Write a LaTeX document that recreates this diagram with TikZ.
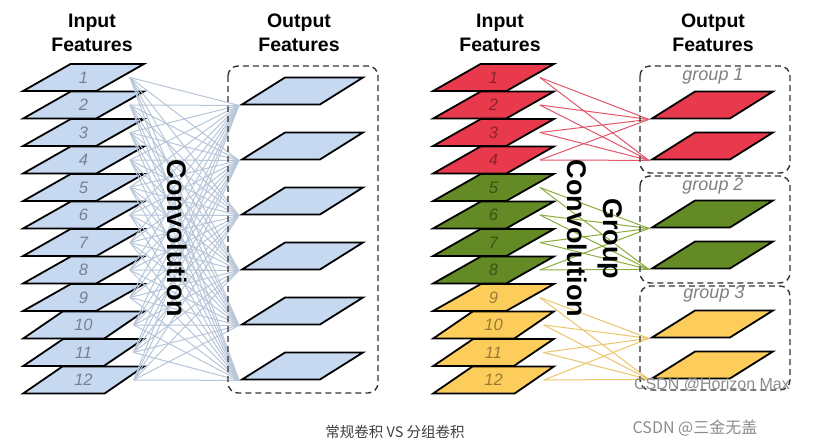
\documentclass[tikz,border=0pt]{standalone}
\usepackage{fontspec}
\setmainfont{Liberation Sans}
\newfontfamily\cjk{Noto Sans CJK SC}
\usetikzlibrary{shapes.geometric}
\definecolor{inblue}{RGB}{198,217,241}
\definecolor{inred}{RGB}{232,58,76}
\definecolor{ingreen}{RGB}{99,138,36}
\definecolor{inyellow}{RGB}{252,205,90}
\definecolor{linkblue}{RGB}{184,198,218}
\definecolor{linkred}{RGB}{226,86,106}
\definecolor{linkgreen}{RGB}{138,174,62}
\definecolor{linkyellow}{RGB}{234,198,108}
\newcommand{\Header}{\fontsize{19.5}{24}\selectfont\bfseries}
\newcommand{\Convfont}{\fontsize{27}{36}\selectfont\bfseries}
\tikzstyle{infeat}=[trapezium, trapezium left angle=34, trapezium right angle=146, trapezium stretches=true, minimum width=121pt, minimum height=27pt, inner sep=0pt, draw, line width=1.8pt, font=\fontsize{16.5}{16.5}\selectfont\itshape, text opacity=.4]
\tikzstyle{outfeat}=[infeat, trapezium left angle=39, trapezium right angle=141, text width=4pt, text height=4pt]
\tikzstyle{groupbox}=[dash pattern=on 6pt off 4pt, line width=1.4pt, rounded corners=10pt, black!80]
\tikzstyle{grouplabel}=[text=black!50, font=\fontsize{18}{18}\selectfont\itshape]
\tikzstyle{link}=[line width=1pt]

\begin{document}
\begin{tikzpicture}[x=1pt,y=-1pt]
  \path[fill=white] (0,0) rectangle (814,446);

  %% Headers
  \draw (92,33) node[align=center,inner sep=0pt,font=\Header] (inL) {Input\\Features};
  \draw (299,33) node[align=center,inner sep=0pt,font=\Header] (outL) {Output\\Features};
  \draw (500,33) node[align=center,inner sep=0pt,font=\Header] (inR) {Input\\Features};
  \draw (713,33) node[align=center,inner sep=0pt,font=\Header] (outR) {Output\\Features};

  %% Normal convolution, inputs
  \draw (83.5,380) node[infeat,fill=inblue] (A12) {12};
  \draw (83.5,352.5) node[infeat,fill=inblue] (A11) {11};
  \draw (83.5,325) node[infeat,fill=inblue] (A10) {10};
  \draw (83.5,297.5) node[infeat,fill=inblue] (A9) {9};
  \draw (83.5,270) node[infeat,fill=inblue] (A8) {8};
  \draw (83.5,242.5) node[infeat,fill=inblue] (A7) {7};
  \draw (83.5,215) node[infeat,fill=inblue] (A6) {6};
  \draw (83.5,187.5) node[infeat,fill=inblue] (A5) {5};
  \draw (83.5,160) node[infeat,fill=inblue] (A4) {4};
  \draw (83.5,132.5) node[infeat,fill=inblue] (A3) {3};
  \draw (83.5,105) node[infeat,fill=inblue] (A2) {2};
  \draw (83.5,77.5) node[infeat,fill=inblue] (A1) {1};

  %% Normal convolution, outputs
  \draw (302.5,91) node[outfeat,fill=inblue] (B1) {};
  \draw (302.5,146) node[outfeat,fill=inblue] (B2) {};
  \draw (302.5,201) node[outfeat,fill=inblue] (B3) {};
  \draw (302.5,256) node[outfeat,fill=inblue] (B4) {};
  \draw (302.5,311) node[outfeat,fill=inblue] (B5) {};
  \draw (302.5,366) node[outfeat,fill=inblue] (B6) {};

  %% Group convolution, inputs
  \draw (493.5,380) node[infeat,fill=inyellow] (C12) {12};
  \draw (493.5,352.5) node[infeat,fill=inyellow] (C11) {11};
  \draw (493.5,325) node[infeat,fill=inyellow] (C10) {10};
  \draw (493.5,297.5) node[infeat,fill=inyellow] (C9) {9};
  \draw (493.5,270) node[infeat,fill=ingreen] (C8) {8};
  \draw (493.5,242.5) node[infeat,fill=ingreen] (C7) {7};
  \draw (493.5,215) node[infeat,fill=ingreen] (C6) {6};
  \draw (493.5,187.5) node[infeat,fill=ingreen] (C5) {5};
  \draw (493.5,160) node[infeat,fill=inred] (C4) {4};
  \draw (493.5,132.5) node[infeat,fill=inred] (C3) {3};
  \draw (493.5,105) node[infeat,fill=inred] (C2) {2};
  \draw (493.5,77.5) node[infeat,fill=inred] (C1) {1};

  %% Group convolution, outputs
  \draw (712.5,105) node[outfeat,fill=inred] (D1) {};
  \draw (712.5,146) node[outfeat,fill=inred] (D2) {};
  \draw (712.5,214) node[outfeat,fill=ingreen] (D3) {};
  \draw (712.5,255) node[outfeat,fill=ingreen] (D4) {};
  \draw (712.5,324) node[outfeat,fill=inyellow] (D5) {};
  \draw (712.5,365) node[outfeat,fill=inyellow] (D6) {};

  %% every input to every output
  \draw[link,linkblue] ([xshift=8pt]A1.east) edge (B1.bottom left corner) edge (B2.bottom left corner) edge (B3.bottom left corner) edge (B4.bottom left corner) edge (B5.bottom left corner) edge (B6.bottom left corner);
  \draw[link,linkblue] ([xshift=8pt]A2.east) edge (B1.bottom left corner) edge (B2.bottom left corner) edge (B3.bottom left corner) edge (B4.bottom left corner) edge (B5.bottom left corner) edge (B6.bottom left corner);
  \draw[link,linkblue] ([xshift=8pt]A3.east) edge (B1.bottom left corner) edge (B2.bottom left corner) edge (B3.bottom left corner) edge (B4.bottom left corner) edge (B5.bottom left corner) edge (B6.bottom left corner);
  \draw[link,linkblue] ([xshift=8pt]A4.east) edge (B1.bottom left corner) edge (B2.bottom left corner) edge (B3.bottom left corner) edge (B4.bottom left corner) edge (B5.bottom left corner) edge (B6.bottom left corner);
  \draw[link,linkblue] ([xshift=8pt]A5.east) edge (B1.bottom left corner) edge (B2.bottom left corner) edge (B3.bottom left corner) edge (B4.bottom left corner) edge (B5.bottom left corner) edge (B6.bottom left corner);
  \draw[link,linkblue] ([xshift=8pt]A6.east) edge (B1.bottom left corner) edge (B2.bottom left corner) edge (B3.bottom left corner) edge (B4.bottom left corner) edge (B5.bottom left corner) edge (B6.bottom left corner);
  \draw[link,linkblue] ([xshift=8pt]A7.east) edge (B1.bottom left corner) edge (B2.bottom left corner) edge (B3.bottom left corner) edge (B4.bottom left corner) edge (B5.bottom left corner) edge (B6.bottom left corner);
  \draw[link,linkblue] ([xshift=8pt]A8.east) edge (B1.bottom left corner) edge (B2.bottom left corner) edge (B3.bottom left corner) edge (B4.bottom left corner) edge (B5.bottom left corner) edge (B6.bottom left corner);
  \draw[link,linkblue] ([xshift=8pt]A9.east) edge (B1.bottom left corner) edge (B2.bottom left corner) edge (B3.bottom left corner) edge (B4.bottom left corner) edge (B5.bottom left corner) edge (B6.bottom left corner);
  \draw[link,linkblue] ([xshift=8pt]A10.east) edge (B1.bottom left corner) edge (B2.bottom left corner) edge (B3.bottom left corner) edge (B4.bottom left corner) edge (B5.bottom left corner) edge (B6.bottom left corner);
  \draw[link,linkblue] ([xshift=8pt]A11.east) edge (B1.bottom left corner) edge (B2.bottom left corner) edge (B3.bottom left corner) edge (B4.bottom left corner) edge (B5.bottom left corner) edge (B6.bottom left corner);
  \draw[link,linkblue] ([xshift=8pt]A12.east) edge (B1.bottom left corner) edge (B2.bottom left corner) edge (B3.bottom left corner) edge (B4.bottom left corner) edge (B5.bottom left corner) edge (B6.bottom left corner);

  %% group 1
  \draw[link,linkred] ([xshift=8pt]C1.east) edge (D1.bottom left corner) edge (D2.bottom left corner);
  \draw[link,linkred] ([xshift=8pt]C2.east) edge (D1.bottom left corner) edge (D2.bottom left corner);
  \draw[link,linkred] ([xshift=8pt]C3.east) edge (D1.bottom left corner) edge (D2.bottom left corner);
  \draw[link,linkred] ([xshift=8pt]C4.east) edge (D1.bottom left corner) edge (D2.bottom left corner);
  %% group 2
  \draw[link,linkgreen] ([xshift=8pt]C5.east) edge (D3.bottom left corner) edge (D4.bottom left corner);
  \draw[link,linkgreen] ([xshift=8pt]C6.east) edge (D3.bottom left corner) edge (D4.bottom left corner);
  \draw[link,linkgreen] ([xshift=8pt]C7.east) edge (D3.bottom left corner) edge (D4.bottom left corner);
  \draw[link,linkgreen] ([xshift=8pt]C8.east) edge (D3.bottom left corner) edge (D4.bottom left corner);
  %% group 3
  \draw[link,linkyellow] ([xshift=8pt]C9.east) edge (D5.bottom left corner) edge (D6.bottom left corner);
  \draw[link,linkyellow] ([xshift=8pt]C10.east) edge (D5.bottom left corner) edge (D6.bottom left corner);
  \draw[link,linkyellow] ([xshift=8pt]C11.east) edge (D5.bottom left corner) edge (D6.bottom left corner);
  \draw[link,linkyellow] ([xshift=8pt]C12.east) edge (D5.bottom left corner) edge (D6.bottom left corner);

  %% Labels in the middle
  \draw (177,238.5) node[rotate=-90,inner sep=0pt,font=\Convfont] (conv) {Convolution};
  \draw (595,238.5) node[rotate=-90,align=center,inner sep=0pt,font=\Convfont] (gconv) {Group\\Convolution};

  %% Dashed boxes
  \draw[groupbox] (228,66) rectangle (378,393);
  \draw[groupbox] (640,66) rectangle (790,173);
  \draw[groupbox] (640,176) rectangle (790,283);
  \draw[groupbox] (640,286) rectangle (790,390);
  \draw (713,76) node[grouplabel] (g1) {group 1};
  \draw (713,186) node[grouplabel] (g2) {group 2};
  \draw (714,294) node[grouplabel] (g3) {group 3};

  %% Caption and marks
  \draw (395,432) node[text=black!75,font=\cjk\fontsize{14.5}{16}\selectfont] (caption) {常规卷积 VS 分组卷积};
  \draw (712,385) node[text=black!45,font=\fontsize{16}{16}\selectfont] (markA) {CSDN @Horizon Max};
  \draw (695,428) node[text=black!45,font=\cjk\fontsize{16}{16}\selectfont] (markB) {CSDN @三金无盖};
\end{tikzpicture}
\end{document}
